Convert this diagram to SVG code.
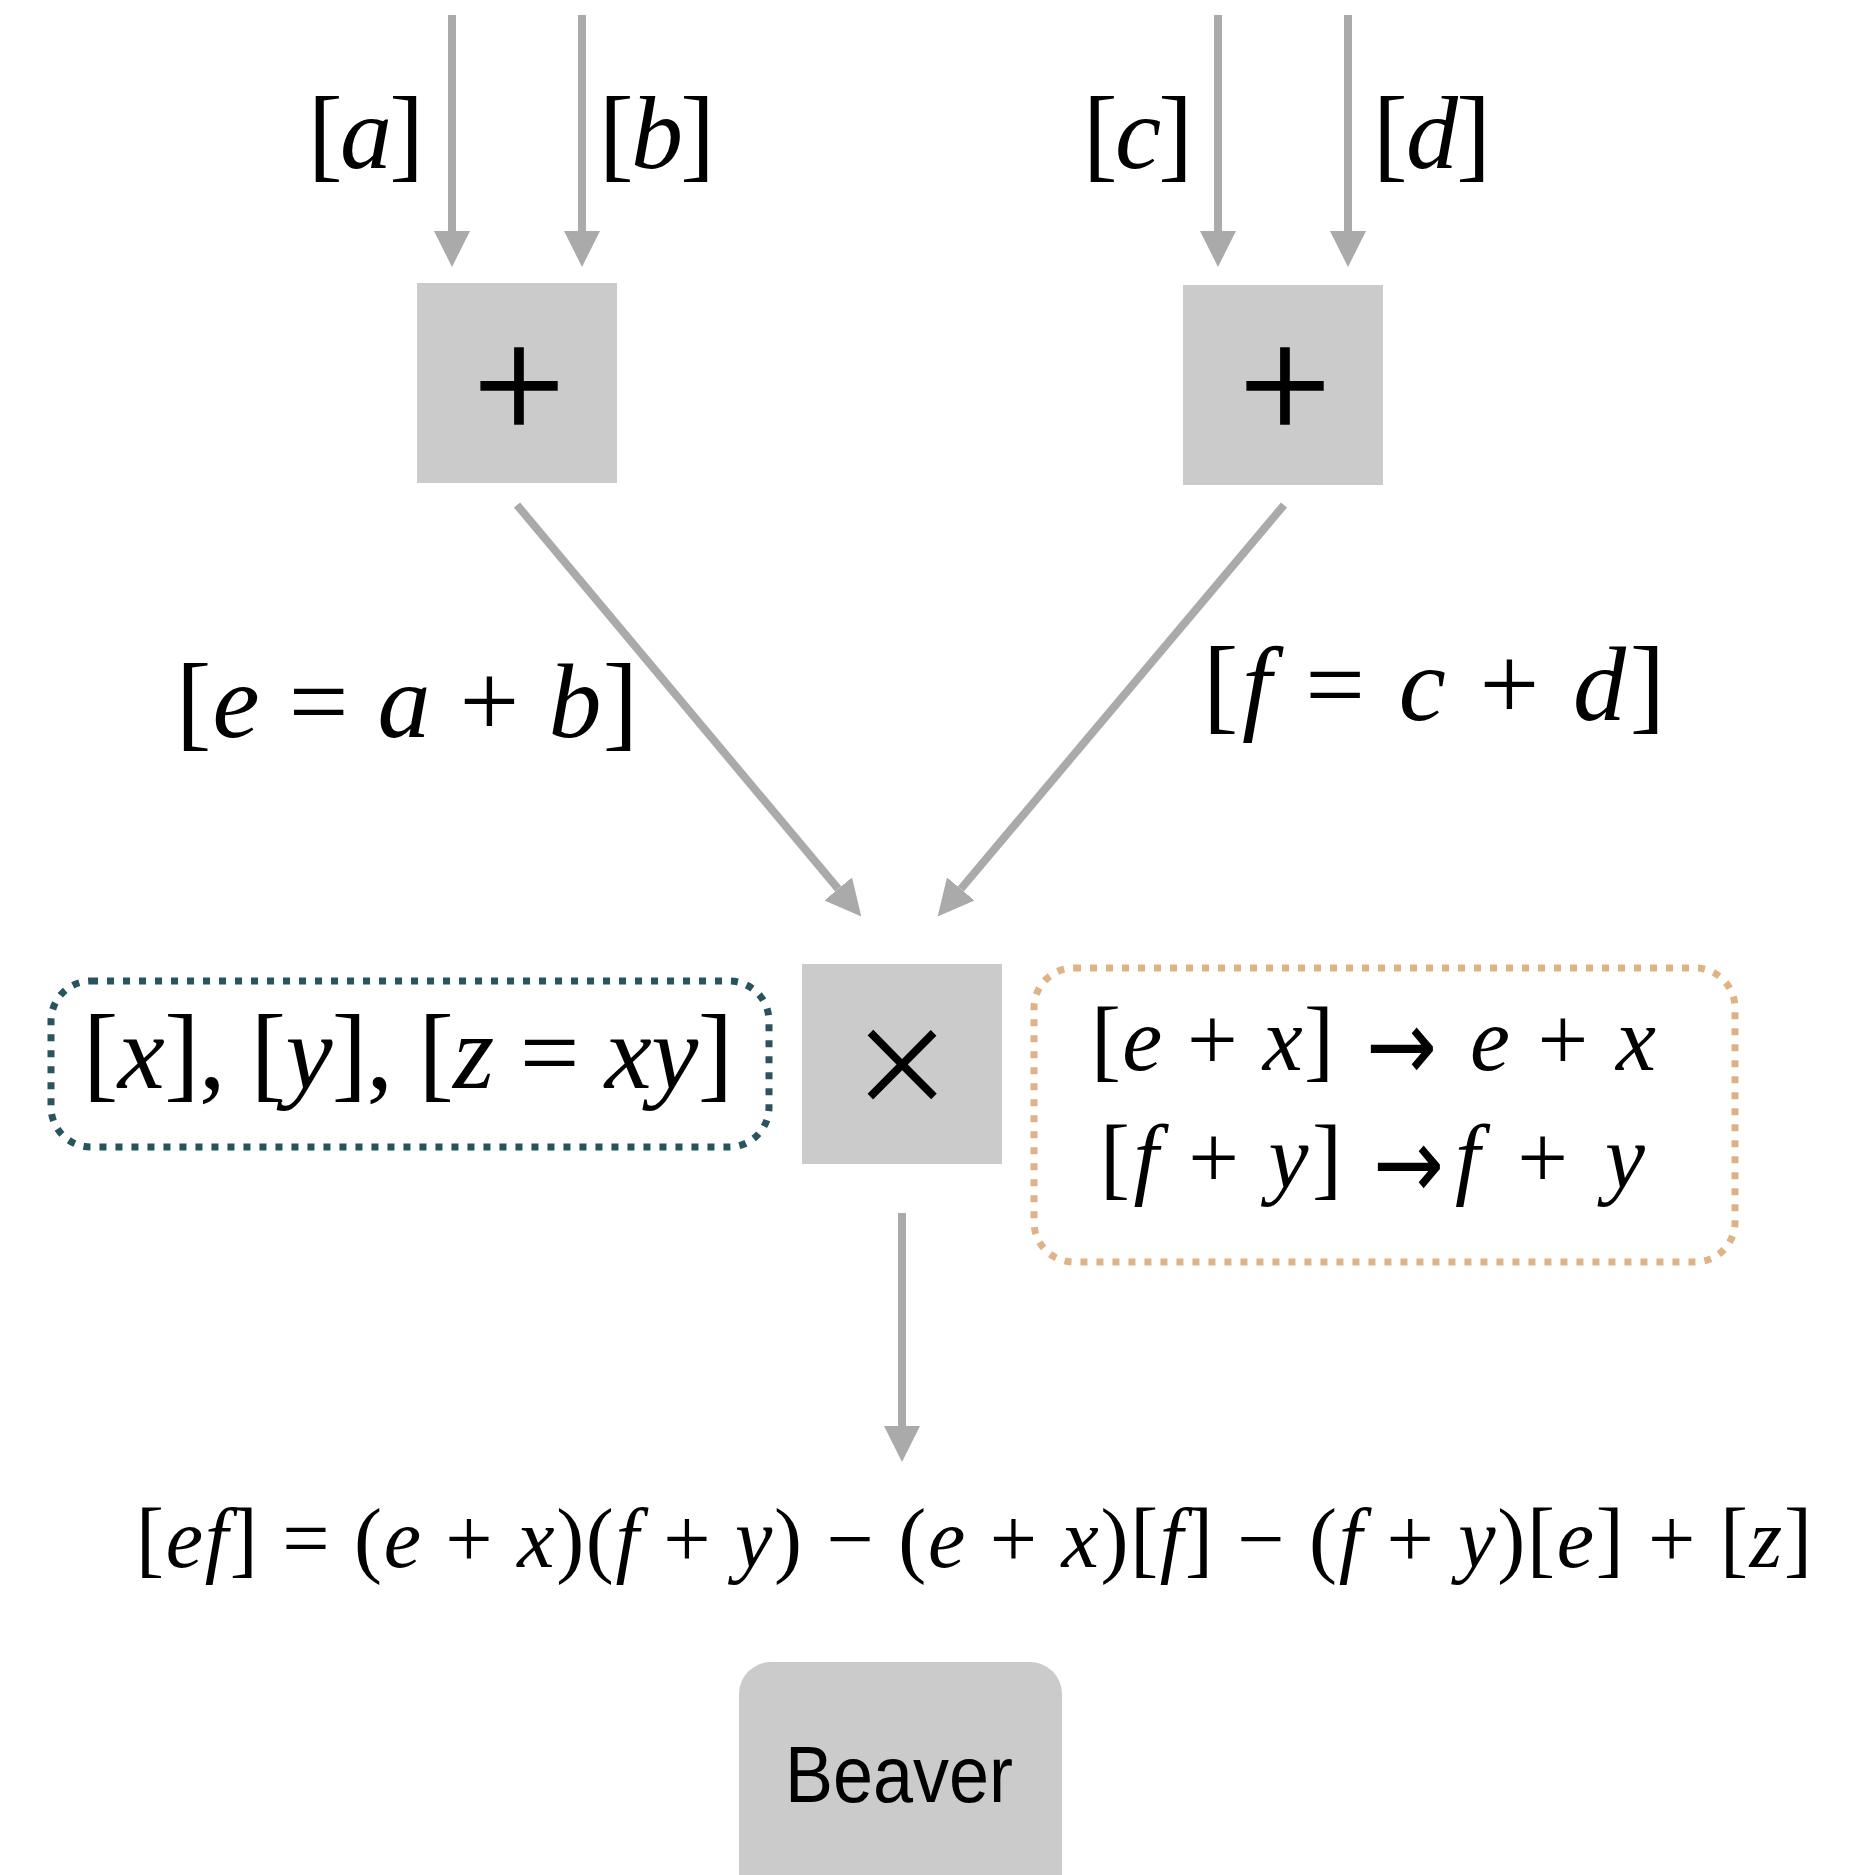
<svg xmlns="http://www.w3.org/2000/svg" width="1856" height="1875" viewBox="0 0 1856 1875">
<defs>
<style>
.box{fill:#cbcbcb}
.ln{stroke:#aaaaaa;stroke-width:8;fill:none}
.m{font-family:"Liberation Serif","Times New Roman",serif;fill:#000}
.i{font-style:italic}
.op{font-family:"Liberation Serif",serif;fill:#000;stroke:#000;stroke-width:1.5}
.arr{font-family:"DejaVu Sans",sans-serif;fill:#000}
</style>
<marker id="ah" markerUnits="userSpaceOnUse" markerWidth="36" markerHeight="36" viewBox="0 0 34 34" refX="0" refY="17" orient="auto">
<path d="M0,0 L34,17 L0,34 Z" fill="#aaaaaa"/>
</marker>
</defs>
<rect width="1856" height="1875" fill="#ffffff"/>

<g id="connectors">
<line class="ln" x1="452" y1="15" x2="452" y2="231" marker-end="url(#ah)"/>
<line class="ln" x1="582" y1="15" x2="582" y2="231" marker-end="url(#ah)"/>
<line class="ln" x1="1218" y1="15" x2="1218" y2="231" marker-end="url(#ah)"/>
<line class="ln" x1="1348" y1="15" x2="1348" y2="231" marker-end="url(#ah)"/>
<line class="ln" x1="517" y1="505" x2="838.2" y2="888.9" marker-end="url(#ah)"/>
<line class="ln" x1="1284" y1="505" x2="960.8" y2="889" marker-end="url(#ah)"/>
<line class="ln" x1="902" y1="1213" x2="902" y2="1426" marker-end="url(#ah)"/>
</g>

<g id="label-a"><text class="m" x="308" y="168" font-size="104" textLength="116">[<tspan class="i">a</tspan>]</text></g>
<g id="label-b"><text class="m" x="599" y="168" font-size="104" textLength="116">[<tspan class="i">b</tspan>]</text></g>
<g id="label-c"><text class="m" x="1083" y="168" font-size="104" textLength="110">[<tspan class="i">c</tspan>]</text></g>
<g id="label-d"><text class="m" x="1373" y="168" font-size="104" textLength="118">[<tspan class="i">d</tspan>]</text></g>

<g id="add1">
<rect class="box" x="417" y="283" width="200" height="200"/>
<text class="op" x="519" y="440" font-size="163" text-anchor="middle">+</text>
</g>
<g id="add2">
<rect class="box" x="1183" y="285" width="200" height="200"/>
<text class="op" x="1285" y="440" font-size="163" text-anchor="middle">+</text>
</g>

<g id="label-e"><text class="m" x="176" y="737" font-size="106" textLength="462">[<tspan class="i">e</tspan> = <tspan class="i">a</tspan> + <tspan class="i">b</tspan>]</text></g>
<g id="label-f"><text class="m" x="1203" y="720" font-size="106" textLength="462">[<tspan class="i">f</tspan> = <tspan class="i">c</tspan> + <tspan class="i">d</tspan>]</text></g>

<g id="mul">
<rect class="box" x="802" y="964" width="200" height="200"/>
<text x="902" y="1121" font-family="Liberation Sans,Arial,sans-serif" font-size="168" text-anchor="middle" fill="#000" stroke="#cbcbcb" stroke-width="4">×</text>
</g>

<g id="triples">
<rect x="51" y="981" width="718" height="166" rx="40" ry="40" fill="none" stroke="#28535f" stroke-width="7" stroke-dasharray="7 9"/>
<text class="m" x="83" y="1088" font-size="106" textLength="650">[<tspan class="i">x</tspan>], [<tspan class="i">y</tspan>], [<tspan class="i">z</tspan> = <tspan class="i">xy</tspan>]</text>
</g>

<g id="open">
<rect x="1034" y="968" width="701" height="294" rx="40" ry="40" fill="none" stroke="#e0b287" stroke-width="7" stroke-dasharray="7 9"/>
<text class="m" x="1091" y="1070" font-size="90" textLength="243">[<tspan class="i">e</tspan> + <tspan class="i">x</tspan>]</text>
<text class="arr" x="1366" y="1080" font-size="100" textLength="71" lengthAdjust="spacingAndGlyphs">→</text>
<text class="m" x="1470" y="1070" font-size="90" textLength="186"><tspan class="i">e</tspan> + <tspan class="i">x</tspan></text>
<text class="m" x="1100" y="1188" font-size="90" textLength="242">[<tspan class="i">f</tspan> + <tspan class="i">y</tspan>]</text>
<text class="arr" x="1373" y="1198" font-size="100" textLength="71" lengthAdjust="spacingAndGlyphs">→</text>
<text class="m" x="1455" y="1188" font-size="90" textLength="190"><tspan class="i">f</tspan> + <tspan class="i">y</tspan></text>
</g>

<g id="result">
<text class="m" x="136" y="1567" font-size="84" textLength="1676">[<tspan class="i">ef</tspan>] = (<tspan class="i">e</tspan> + <tspan class="i">x</tspan>)(<tspan class="i">f</tspan> + <tspan class="i">y</tspan>) − (<tspan class="i">e</tspan> + <tspan class="i">x</tspan>)[<tspan class="i">f</tspan>] − (<tspan class="i">f</tspan> + <tspan class="i">y</tspan>)[<tspan class="i">e</tspan>] + [<tspan class="i">z</tspan>]</text>
</g>

<g id="beaver">
<rect class="box" x="739" y="1662" width="323" height="260" rx="32" ry="32"/>
<text x="785" y="1802" font-family="Liberation Sans,Arial,sans-serif" font-size="79" textLength="228" lengthAdjust="spacingAndGlyphs" fill="#000">Beaver</text>
</g>
</svg>
